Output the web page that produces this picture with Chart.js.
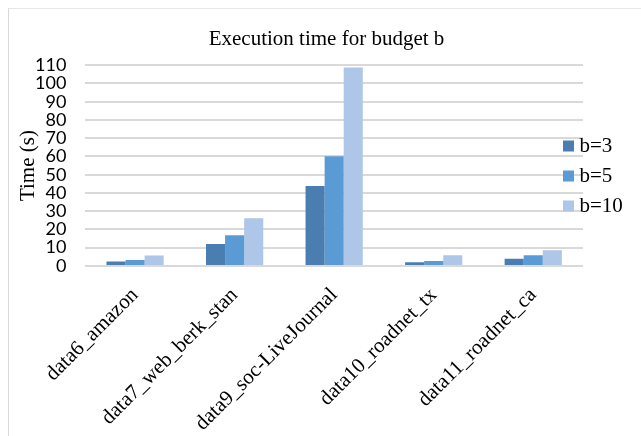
<!DOCTYPE html>
<html>
<head>
<meta charset="utf-8">
<script src="https://cdn.jsdelivr.net/npm/chart.js@4.4.0/dist/chart.umd.min.js"></script>
<style>
  html, body { margin: 0; padding: 0; background: #ffffff; }
  #wrap { position: relative; width: 641px; height: 436px; overflow: hidden; background: #ffffff; }
  #frame { position: absolute; left: 8px; top: 8px; width: 700px; height: 500px;
           border-left: 1px solid #d9d9d9; border-top: 1px solid #e6e6e6; box-sizing: border-box; }
  canvas { position: absolute; left: 0; top: 0; }
</style>
</head>
<body>
<div id="wrap">
  <div id="frame"></div>
  <canvas id="c" width="641" height="436"></canvas>
</div>
<script>
// ---- data ----
const categories = ["data6_amazon", "data7_web_berk_stan", "data9_soc-LiveJournal", "data10_roadnet_tx", "data11_roadnet_ca"];
const seriesNames = ["b=3", "b=5", "b=10"];
const valuesB3 = [2.4, 12.0, 43.8, 2.0, 4.0];
const valuesB5 = [3.3, 16.8, 60.1, 2.7, 5.9];
const valuesB10 = [5.7, 26.1, 108.8, 5.9, 8.6];
const yTicks = [0, 10, 20, 30, 40, 50, 60, 70, 80, 90, 100, 110];

const colors = ["#4a7eb1", "#5b9bd5", "#aec6e7"];
const serif = "'Liberation Serif', 'Times New Roman', serif";
const sans = "Lato, 'Open Sans', sans-serif";
const textColor = "#000000";

// place the legend over the right edge of the plot and nudge the title, as in the reference
const layoutTweak = {
  id: 'layoutTweak',
  afterLayout(chart) {
    const l = chart.legend;
    const ca = chart.chartArea;
    if (l && ca) {
      const w = l.width;
      l.left = ca.right - 24;
      l.right = l.left + w;
      l.top = ca.top + 10.5;
      l.bottom = ca.bottom + 10.5;
    }
    const t = chart.titleBlock;
    if (t) { t.left += 34; t.right += 34; }
  }
};

new Chart(document.getElementById('c'), {
  type: 'bar',
  data: {
    labels: categories,
    datasets: [
      { label: seriesNames[0], data: valuesB3, backgroundColor: colors[0] },
      { label: seriesNames[1], data: valuesB5, backgroundColor: colors[1] },
      { label: seriesNames[2], data: valuesB10, backgroundColor: colors[2] }
    ]
  },
  options: {
    responsive: false,
    devicePixelRatio: 1,
    animation: false,
    layout: { padding: { left: 2, right: 58, top: 0, bottom: -17 } },
    datasets: { bar: { barPercentage: 1.0, categoryPercentage: 0.575, borderWidth: 0 } },
    plugins: {
      title: {
        display: true,
        text: 'Execution time for budget b',
        color: textColor,
        font: { family: serif, size: 21, weight: 'normal' },
        padding: { top: 27, bottom: 13 }
      },
      legend: {
        position: 'chartArea',
        align: 'center',
        labels: {
          color: textColor,
          font: { family: serif, size: 21 },
          usePointStyle: true,
          pointStyle: 'rect',
          boxWidth: 1,
          boxHeight: 11,
          padding: 9
        }
      },
      tooltip: { enabled: false }
    },
    scales: {
      x: {
        grid: { display: false, drawTicks: false },
        border: { display: false },
        ticks: {
          color: textColor,
          font: { family: serif, size: 21 },
          minRotation: 45,
          maxRotation: 45,
          autoSkip: false,
          padding: 17
        }
      },
      y: {
        min: 0,
        max: 110,
        afterBuildTicks(axis) { axis.ticks = yTicks.map(v => ({ value: v })); },
        grid: { color: '#d9d9d9', lineWidth: 2, drawTicks: false },
        border: { display: false },
        ticks: {
          color: textColor,
          font: { family: sans, size: 18 },
          autoSkip: false,
          padding: 19
        },
        title: {
          display: true,
          text: 'Time (s)',
          color: textColor,
          font: { family: serif, size: 21, lineHeight: 1 },
          padding: { top: 16, bottom: -23 }
        }
      }
    }
  },
  plugins: [layoutTweak]
});
</script>
</body>
</html>
